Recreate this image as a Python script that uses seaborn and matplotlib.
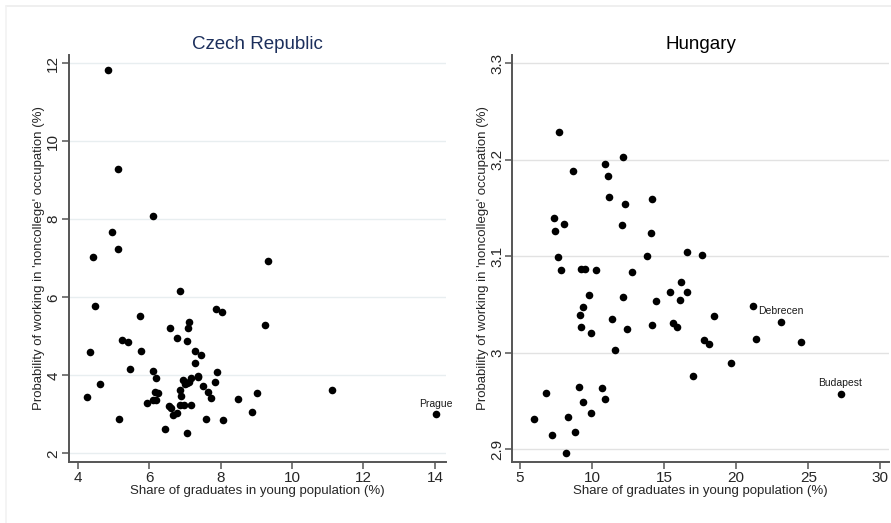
import numpy as np
import pandas as pd
import matplotlib.pyplot as plt
import seaborn as sns

# ── Data ──────────────────────────────────────────────────────────────────────
cz_share = [4.84, 5.12, 6.11, 4.95, 5.14, 4.43, 9.33, 6.86, 4.49, 7.88,
            8.05, 5.75, 9.24, 7.11, 7.08, 6.58, 6.78, 7.05, 5.23, 5.40,
            4.34, 5.78, 7.29, 7.45, 7.29, 5.47, 6.12, 7.89, 6.19, 7.36,
            7.38, 6.94, 7.00, 7.12, 7.17, 7.07, 4.62, 7.85, 7.52, 7.65,
            7.72, 6.87, 6.89, 4.26, 6.16, 6.25, 6.10, 6.19, 5.95, 6.86,
            6.97, 7.17, 6.57, 6.62, 6.78, 6.67, 8.48, 9.01, 8.88, 7.60,
            8.07, 5.16, 6.44, 7.07, 11.12, 14.04]
cz_prob = [11.83, 9.28, 8.09, 7.67, 7.23, 7.03, 6.93, 6.17, 5.78, 5.69,
           5.62, 5.53, 5.28, 5.36, 5.22, 5.20, 4.95, 4.89, 4.91, 4.85,
           4.60, 4.62, 4.63, 4.51, 4.32, 4.17, 4.10, 4.08, 3.92, 3.98,
           3.95, 3.88, 3.78, 3.84, 3.92, 3.80, 3.78, 3.83, 3.73, 3.58,
           3.42, 3.62, 3.47, 3.44, 3.58, 3.54, 3.37, 3.36, 3.28, 3.24,
           3.23, 3.23, 3.21, 3.15, 3.03, 2.97, 3.38, 3.54, 3.06, 2.88,
           2.85, 2.89, 2.62, 2.51, 3.63, 3.00]
cz_labels = {65: "Prague"}

hu_share = [7.71, 12.17, 10.92, 8.66, 11.09, 11.20, 14.19, 12.29, 7.34, 8.03,
            12.10, 7.43, 14.10, 7.66, 13.82, 16.60, 17.66, 7.82, 9.21, 9.53,
            10.26, 12.76, 16.20, 15.42, 16.62, 9.79, 12.13, 16.09, 14.44, 9.35,
            9.17, 11.37, 15.63, 14.14, 9.26, 15.88, 12.43, 9.95, 11.60, 16.97,
            6.83, 9.10, 10.69, 10.90, 9.40, 9.91, 5.95, 8.33, 8.82, 7.24,
            8.19, 21.18, 23.11, 18.43, 17.80, 18.10, 21.37, 24.47, 19.63, 27.24]
hu_prob = [3.229, 3.203, 3.196, 3.188, 3.183, 3.161, 3.159, 3.154, 3.140, 3.133,
           3.132, 3.126, 3.124, 3.099, 3.100, 3.104, 3.101, 3.086, 3.087, 3.087,
           3.086, 3.084, 3.073, 3.063, 3.063, 3.060, 3.058, 3.055, 3.053, 3.047,
           3.039, 3.035, 3.031, 3.029, 3.027, 3.026, 3.024, 3.020, 3.003, 2.976,
           2.958, 2.964, 2.963, 2.952, 2.949, 2.937, 2.931, 2.933, 2.918, 2.915,
           2.896, 3.048, 3.032, 3.038, 3.013, 3.009, 3.014, 3.011, 2.989, 2.957]
hu_labels = {52: "Debrecen", 59: "Budapest"}

cz_xticks = [4, 6, 8, 10, 12, 14]
cz_yticks = [2, 4, 6, 8, 10, 12]
hu_xticks = [5, 10, 15, 20, 25, 30]
hu_yticks = [2.9, 3.0, 3.1, 3.2, 3.3]
hu_yticklabels = ["2.9", "3", "3.1", "3.2", "3.3"]

XLABEL = "Share of graduates in young population (%)"
YLABEL = "Probability of working in 'noncollege' occupation (%)"

# ── Style ─────────────────────────────────────────────────────────────────────
sns.set_style("white")
plt.rcParams['font.family'] = ['Liberation Sans', 'DejaVu Sans']

fig = plt.figure(figsize=(8.91, 5.23), dpi=100)
fig.patch.set_facecolor('white')

W, H = 891, 523
def px_axes(x0, y0, x1, y1):
    return fig.add_axes([x0 / W, 1 - y1 / H, (x1 - x0) / W, (y1 - y0) / H])

ax_cz = px_axes(68.7, 55, 446, 461.7)
ax_hu = px_axes(512.3, 55, 889, 461.7)

# faint outer border (graph region edge)
fig.add_artist(plt.Line2D([6 / W, 1], [1 - 6 / H, 1 - 6 / H], color='#ececec', lw=1.2))
fig.add_artist(plt.Line2D([6 / W, 6 / W], [0, 1 - 6 / H], color='#f2f2f2', lw=1.2))

panels = [
    (ax_cz, cz_share, cz_prob, cz_labels, "Czech Republic", '#1c2f5c',
     cz_xticks, cz_yticks, [str(t) for t in cz_yticks], (3.75, 14.31), (1.785, 12.21), '#e8eef0'),
    (ax_hu, hu_share, hu_prob, hu_labels, "Hungary", 'black',
     hu_xticks, hu_yticks, hu_yticklabels, (4.47, 30.6), (2.8868, 3.3086), '#e2e2e2'),
]

for ax, xs, ys, labels, title, tcol, xt, yt, ytl, xlim, ylim, gcol in panels:
    df = pd.DataFrame({'share': xs, 'prob': ys})
    sns.scatterplot(data=df, x='share', y='prob', ax=ax, color='black',
                    s=30, linewidth=0, zorder=3)
    for i, name in labels.items():
        ax.annotate(name, (xs[i], ys[i]), xytext=(0, 4), textcoords='offset points',
                    ha='center', va='bottom', fontsize=7.5, color='#1a1a1a')

    ax.set_xlim(*xlim)
    ax.set_ylim(*ylim)
    ax.set_xticks(xt)
    ax.set_yticks(yt)
    ax.set_yticklabels(ytl, rotation=90, va='center')
    ax.tick_params(axis='x', direction='out', length=5, width=1.1,
                   color='#555555', labelsize=11, pad=2, bottom=True)
    ax.tick_params(axis='y', direction='out', length=5, width=1.1,
                   color='#555555', labelsize=11, pad=1, left=True)

    ax.grid(axis='y', color=gcol, lw=1.0, zorder=0)
    ax.grid(axis='x', visible=False)
    for side in ['top', 'right']:
        ax.spines[side].set_visible(False)
    for side in ['left', 'bottom']:
        ax.spines[side].set_color('#555555')
        ax.spines[side].set_linewidth(1.4)

    ax.set_xlabel(XLABEL, fontsize=9.5, labelpad=0)
    ax.set_ylabel(YLABEL, fontsize=9.5, labelpad=1)
    ax.set_title(title, fontsize=13.5, color=tcol, pad=4)

fig.savefig('out.png', dpi=100, facecolor='white')
